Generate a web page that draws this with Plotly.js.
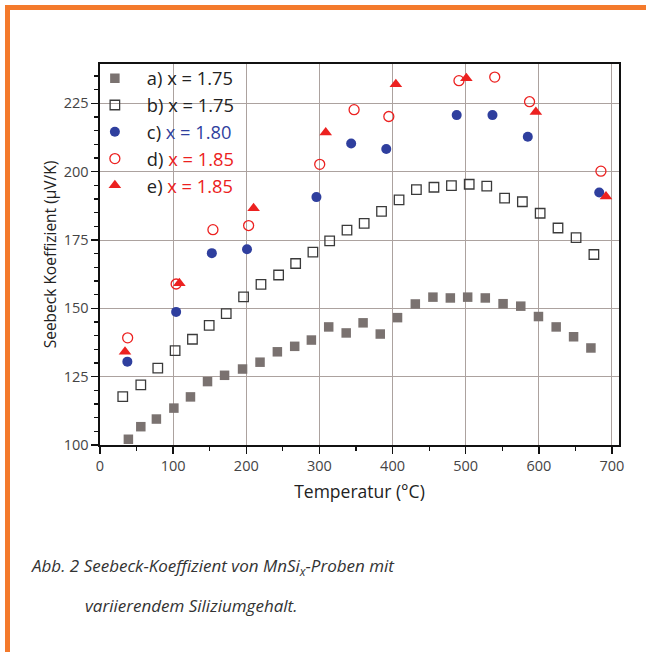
<!DOCTYPE html>
<html>
<head>
<meta charset="utf-8">
<script src="https://cdn.plot.ly/plotly-3.0.1.min.js"></script>
<style>
  html, body { margin: 0; padding: 0; background: #fff; }
  #wrap { position: relative; width: 646px; height: 652px; }
  #chart { position: absolute; left: 0; top: 0; width: 646px; height: 652px; }
  #frame { position: absolute; left: 5px; top: 5px; width: 641px; height: 647px;
           border-top: 5px solid #f47a2c; border-left: 5px solid #f47a2c;
           box-sizing: border-box; pointer-events: none; z-index: 10; }
</style>
</head>
<body>
<div id="wrap">
  <div id="chart"></div>
  <div id="frame"></div>
</div>
<script>
// ---- Data ----
const aX = [38.8, 55.8, 77.1, 101, 123.7, 147, 170.3, 194.9, 218.8, 242.5, 266.2, 289, 312.7, 336.6, 359.7, 383.2, 406.8, 431.1, 455.2, 479, 502.7, 526.8, 551.1, 575.3, 599.5, 623.7, 647.5, 671.2];
const aY = [102.1, 106.7, 109.5, 113.5, 117.6, 123.2, 125.5, 127.8, 130.3, 134.1, 136.1, 138.4, 143.2, 141.0, 144.7, 140.6, 146.6, 151.6, 154.1, 153.8, 154.1, 153.8, 151.7, 150.8, 147.0, 143.2, 139.6, 135.5];

const bX = [31.1, 55.8, 79, 102.7, 126.4, 149.3, 172.6, 196.3, 220.1, 244.2, 267.5, 291.1, 314, 337.7, 361.2, 384.9, 408.9, 432.6, 456.6, 480.5, 504.8, 528.8, 553.2, 577.5, 601.8, 626.2, 650.9, 675.3];
const bY = [117.7, 122.0, 128.1, 134.5, 138.7, 143.8, 148.1, 154.2, 158.8, 162.2, 166.4, 170.6, 174.7, 178.6, 181.1, 185.5, 189.7, 193.4, 194.3, 194.9, 195.4, 194.7, 190.3, 189.0, 184.8, 179.4, 175.9, 169.7];

const cX = [37.4, 104.1, 152.9, 201, 295.9, 343.4, 391.4, 487.7, 536.6, 584.9, 682.6];
const cY = [130.5, 148.7, 170.2, 171.6, 190.7, 210.3, 208.3, 220.7, 220.7, 212.8, 192.4];

const dX = [37.8, 104.1, 154.4, 203.2, 300.4, 347.4, 394.9, 490.8, 539.7, 587.3, 684.9];
const dY = [139.2, 158.9, 178.8, 180.3, 202.7, 222.7, 220.2, 233.3, 234.6, 225.6, 200.2];

const eX = [34.2, 108.5, 210, 308.6, 404.5, 500.9, 595.9, 691.8];
const eY = [134.1, 159.2, 186.6, 214.3, 232.0, 234.2, 221.8, 190.9];

const seriesLabels = ['a)', 'b)', 'c)', 'd)', 'e)'];
const seriesX = ['x = 1.75', 'x = 1.75', 'x = 1.80', 'x = 1.85', 'x = 1.85'];

const xTickVals = [0, 100, 200, 300, 400, 500, 600, 700];
const yTickVals = [100, 125, 150, 175, 200, 225];

const xTitle = 'Temperatur (°C)';
const yTitle = 'Seebeck Koeffizient (µV/K)';
const captionLine1 = 'Abb. 2 Seebeck-Koeffizient von MnSi<sub>x</sub>-Proben mit';
const captionLine2 = 'variierendem Siliziumgehalt.';

// ---- Styling ----
const FONT = '"Open Sans", "Noto Sans", sans-serif';
const BLUE = '#2f3f9e';
const RED = '#ec2120';
const textColors = ['#222', '#222', BLUE, RED, RED];
function legName(i) {
  return seriesLabels[i] + ' <span style="color:' + textColors[i] + '">' + seriesX[i] + '</span>';
}

const traces = [
  { x: aX, y: aY, name: legName(0), mode: 'markers', type: 'scatter',
    marker: { symbol: 'square', size: 9.5, color: '#7a7270', line: { width: 0 } } },
  { x: bX, y: bY, name: legName(1), mode: 'markers', type: 'scatter',
    marker: { symbol: 'square-open', size: 9.5, color: '#3a3a3a', line: { width: 1.3 } } },
  { x: cX, y: cY, name: legName(2), mode: 'markers', type: 'scatter',
    marker: { symbol: 'circle', size: 10, color: BLUE, line: { width: 0 } } },
  { x: dX, y: dY, name: legName(3), mode: 'markers', type: 'scatter',
    marker: { symbol: 'circle-open', size: 10, color: RED, line: { width: 1.3 } } },
  { x: eX, y: eY, name: legName(4), mode: 'markers', type: 'scatter',
    marker: { symbol: 'triangle-up', size: 11, color: RED, line: { width: 0 } } }
];

const layout = {
  width: 646, height: 652,
  margin: { l: 100, r: 27, t: 64, b: 207, pad: 0 },
  paper_bgcolor: '#ffffff',
  plot_bgcolor: '#ffffff',
  font: { family: FONT, color: '#333' },
  showlegend: true,
  legend: {
    x: -0.033, y: 1.011, xanchor: 'left', yanchor: 'top',
    bgcolor: 'rgba(0,0,0,0)', borderwidth: 0,
    itemwidth: 54, traceorder: 'normal',
    font: { size: 18.3, color: '#222', family: FONT }
  },
  xaxis: {
    range: [0, 709.6],
    tickmode: 'array', tickvals: xTickVals,
    ticks: 'outside', ticklen: 7, tickwidth: 1.5, tickcolor: '#111',
    minor: { dtick: 50, tick0: 0, ticks: 'outside', ticklen: 4, tickwidth: 1.2, tickcolor: '#111', showgrid: false },
    showline: true, linecolor: '#111', linewidth: 1.6, mirror: true,
    showgrid: true, gridcolor: '#aca29f', gridwidth: 1,
    zeroline: false,
    tickfont: { size: 14.5, color: '#444' },
    title: { text: xTitle, font: { size: 17.5, color: '#222' }, standoff: 12 }
  },
  yaxis: {
    range: [100, 239.4],
    tickmode: 'array', tickvals: yTickVals,
    ticks: 'outside', ticklen: 7, tickwidth: 1.5, tickcolor: '#111',
    minor: { dtick: 5, tick0: 100, ticks: 'outside', ticklen: 4, tickwidth: 1.2, tickcolor: '#111', showgrid: false },
    showline: true, linecolor: '#111', linewidth: 1.6, mirror: true,
    showgrid: true, gridcolor: '#aca29f', gridwidth: 1,
    zeroline: false,
    tickfont: { size: 14.5, color: '#444' },
    title: { text: yTitle, font: { size: 15.5, color: '#222' }, standoff: 3 }
  },
  annotations: [
    { xref: 'paper', yref: 'paper', x: -0.137, y: -0.32, xanchor: 'left', yanchor: 'middle',
      text: '<i>' + captionLine1 + '</i>', showarrow: false,
      font: { size: 17, color: '#333', family: FONT } },
    { xref: 'paper', yref: 'paper', x: -0.033, y: -0.42, xanchor: 'left', yanchor: 'middle',
      text: '<i>' + captionLine2 + '</i>', showarrow: false,
      font: { size: 17, color: '#333', family: FONT } }
  ]
};

Plotly.newPlot('chart', traces, layout, { displayModeBar: false, staticPlot: true });
</script>
</body>
</html>
